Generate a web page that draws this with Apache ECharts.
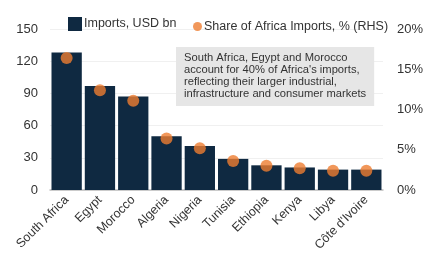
<!DOCTYPE html>
<html>
<head>
<meta charset="utf-8">
<script src="https://cdn.jsdelivr.net/npm/echarts@6/dist/echarts.min.js"></script>
<style>
  html, body { margin: 0; padding: 0; background: #fff; }
</style>
</head>
<body>
<div id="main" style="width: 426px;height:263px;"></div>
<script type="text/javascript">
    // data
    var countries = ['South Africa', 'Egypt', 'Morocco', 'Algeria', 'Nigeria', 'Tunisia', 'Ethiopia', 'Kenya', 'Libya', 'Côte d\'Ivoire'];
    var importsBn = [128, 97, 87, 50, 41, 29, 23, 21, 19, 19];
    var sharePct = [16.4, 12.4, 11.1, 6.4, 5.2, 3.6, 3.0, 2.7, 2.4, 2.4];
    var leftTicks = [0, 30, 60, 90, 120, 150];
    var rightTicks = [0, 5, 10, 15, 20];
    var note = 'South Africa, Egypt and Morocco\naccount for 40% of Africa\'s imports,\nreflecting their larger industrial,\ninfrastructure and consumer markets';

    var font = 'Liberation Sans, Arial, sans-serif';
    var myChart = echarts.init(document.getElementById('main'));

    var legendText = { fontSize: 12.5, color: '#333', fontFamily: font };

    var option = {
        animation: false,
        textStyle: { fontFamily: font },
        grid: { left: 50, right: 38, top: 29, bottom: 73 },
        // two legends so the dot can be smaller than the square
        legend: [
            {
                top: 12,
                left: 63,
                itemWidth: 14,
                itemHeight: 14,
                itemGap: 0,
                textStyle: Object.assign({ padding: [0, 0, 0, -3] }, legendText),
                data: [{ name: 'Imports, USD bn', icon: 'rect' }]
            },
            {
                top: 15,
                left: 188,
                itemWidth: 9,
                itemHeight: 9,
                textStyle: Object.assign({ padding: [0, 0, 0, -3] }, legendText),
                data: [{ name: 'Share of Africa Imports, % (RHS)', icon: 'circle' }]
            }
        ],
        title: {
            text: note,
            left: 176,
            top: 47,
            padding: [5, 8, 6, 8],
            backgroundColor: '#e6e6e6',
            textStyle: { fontSize: 11.2, fontWeight: 'normal', color: '#333', lineHeight: 12, fontFamily: font }
        },
        xAxis: {
            type: 'category',
            data: countries,
            axisLine: { lineStyle: { color: '#bfbfbf', width: 1.5 } },
            axisTick: { show: false },
            axisLabel: { rotate: 45, fontSize: 12.5, color: '#333', margin: 8, interval: 0 }
        },
        yAxis: [
            {
                type: 'value',
                min: leftTicks[0],
                max: leftTicks[leftTicks.length - 1],
                interval: 30,
                axisLine: { show: false },
                axisTick: { show: false },
                axisLabel: { fontSize: 13, color: '#333', margin: 12 },
                splitLine: { lineStyle: { color: '#f0f0f0' } }
            },
            {
                type: 'value',
                min: rightTicks[0],
                max: rightTicks[rightTicks.length - 1],
                interval: 5,
                axisLine: { show: false },
                axisTick: { show: false },
                axisLabel: { fontSize: 13, color: '#333', margin: 14, formatter: '{value}%' },
                splitLine: { show: false }
            }
        ],
        series: [
            {
                name: 'Imports, USD bn',
                type: 'bar',
                data: importsBn,
                barCategoryGap: '9%',
                itemStyle: { color: '#0f2941' }
            },
            {
                name: 'Share of Africa Imports, % (RHS)',
                type: 'scatter',
                yAxisIndex: 1,
                data: sharePct,
                symbolSize: 12,
                itemStyle: { color: '#ed7d31' },
                z: 5
            }
        ]
    };
    myChart.setOption(option);
</script>
</body>
</html>
